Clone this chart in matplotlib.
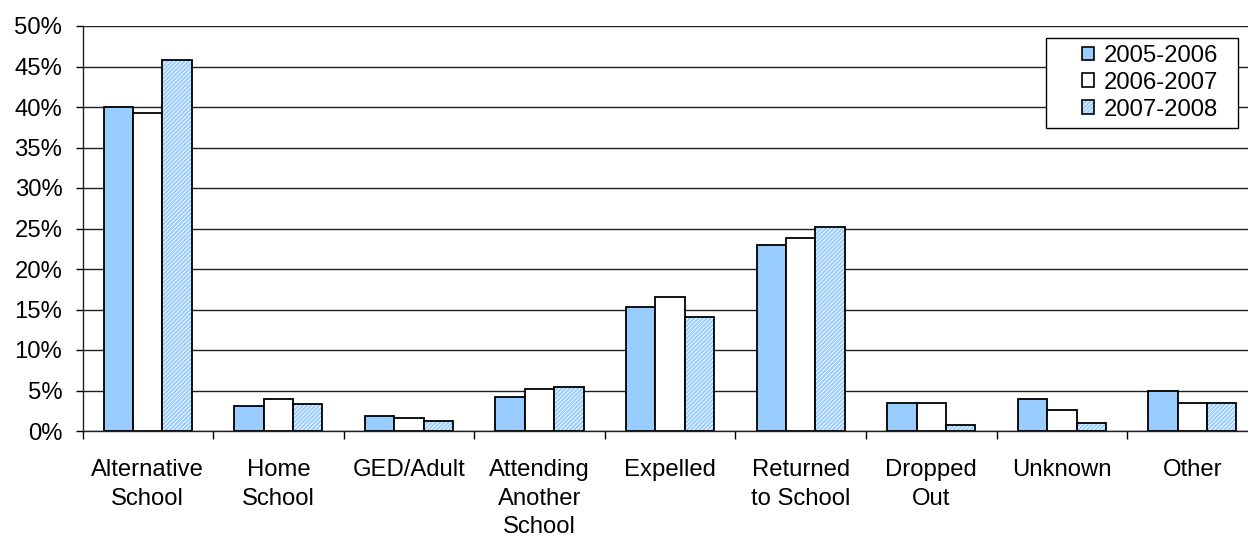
import matplotlib
matplotlib.use("Agg")
import matplotlib.pyplot as plt
import numpy as np
from matplotlib.patches import Patch, Rectangle
from matplotlib.ticker import FixedLocator, FuncFormatter

plt.rcParams['font.family'] = ['Liberation Sans', 'DejaVu Sans']
plt.rcParams['hatch.linewidth'] = 1.5

categories = ["Alternative\nSchool", "Home\nSchool", "GED/Adult",
              "Attending\nAnother\nSchool", "Expelled", "Returned\nto School",
              "Dropped\nOut", "Unknown", "Other"]
series_names = ["2005-2006", "2006-2007", "2007-2008"]
y_2005 = [40.0, 3.1, 1.9, 4.2, 15.3, 23.0, 3.5, 4.0, 4.9]
y_2006 = [39.3, 4.0, 1.6, 5.2, 16.5, 23.8, 3.4, 2.6, 3.5]
y_2007 = [45.8, 3.3, 1.2, 5.4, 14.1, 25.2, 0.8, 1.0, 3.5]
y_ticks = [0, 5, 10, 15, 20, 25, 30, 35, 40, 45, 50]

BLUE = "#99CCFF"
HATCH = "////////"
W, H = 1248, 539
fig = plt.figure(figsize=(W / 100, H / 100), dpi=100)
ax = fig.add_axes([82.5 / W, 108 / H, (1257.7 - 82.5) / W, (513 - 108) / H])

x = np.arange(len(categories))
bw = 0.225
lw = 1.3

ax.bar(x - bw, y_2005, bw, color=BLUE, edgecolor="black", linewidth=lw, zorder=3)
ax.bar(x, y_2006, bw, color="white", edgecolor="black", linewidth=lw, zorder=3)
ax.bar(x + bw, y_2007, bw, color="white", edgecolor=BLUE, linewidth=0,
       hatch=HATCH, zorder=3)
ax.bar(x + bw, y_2007, bw, fill=False, edgecolor="black", linewidth=lw, zorder=4)

ax.set_xlim(-0.5, len(categories) - 0.5)
ax.set_ylim(0, 50)

ax.yaxis.set_major_locator(FixedLocator(y_ticks))
ax.yaxis.set_major_formatter(FuncFormatter(lambda v, p: f"{int(v)}%"))
ax.grid(axis="y", color="#202020", linewidth=1.0, zorder=0)

ax.set_xticks(x)
ax.set_xticklabels(categories, linespacing=1.37)
ax.set_xticks(np.arange(len(categories) + 1) - 0.5, minor=True)
ax.tick_params(axis="x", which="major", length=0, pad=20.5, labelsize=17.2)
ax.tick_params(axis="x", which="minor", length=6, width=1.0, color="black", direction="out")
ax.tick_params(axis="y", length=5, width=1.0, color="black", direction="out",
               pad=9.5, labelsize=17.2)

for s in ["top", "right"]:
    ax.spines[s].set_visible(False)
ax.spines["left"].set_color("#202020")
ax.spines["bottom"].set_color("#202020")
ax.spines["left"].set_linewidth(1.0)
ax.spines["bottom"].set_linewidth(1.0)

# legend frame drawn separately to get the wider left margin
fig.patches.append(Rectangle((1046 / W, 1 - 128 / H), (1238 - 1046) / W, 90 / H,
                             transform=fig.transFigure, facecolor="white",
                             edgecolor="black", linewidth=1.0, zorder=10))

handles = [
    Patch(facecolor=BLUE, edgecolor="black", linewidth=1.2),
    Patch(facecolor="white", edgecolor="black", linewidth=1.2),
    (Patch(facecolor="white", edgecolor=BLUE, linewidth=0, hatch=HATCH),
     Patch(fill=False, edgecolor="black", linewidth=1.2)),
]
leg = fig.legend(handles, series_names, loc="upper left",
                 bbox_to_anchor=(1082 / W, 1 - 45 / H), bbox_transform=fig.transFigure,
                 frameon=False, fontsize=17.2, handlelength=0.5, handleheight=0.5,
                 handletextpad=0.42, labelspacing=0.2, borderpad=0, borderaxespad=0)
leg.set_zorder(11)

fig.savefig("out.png", dpi=100)
